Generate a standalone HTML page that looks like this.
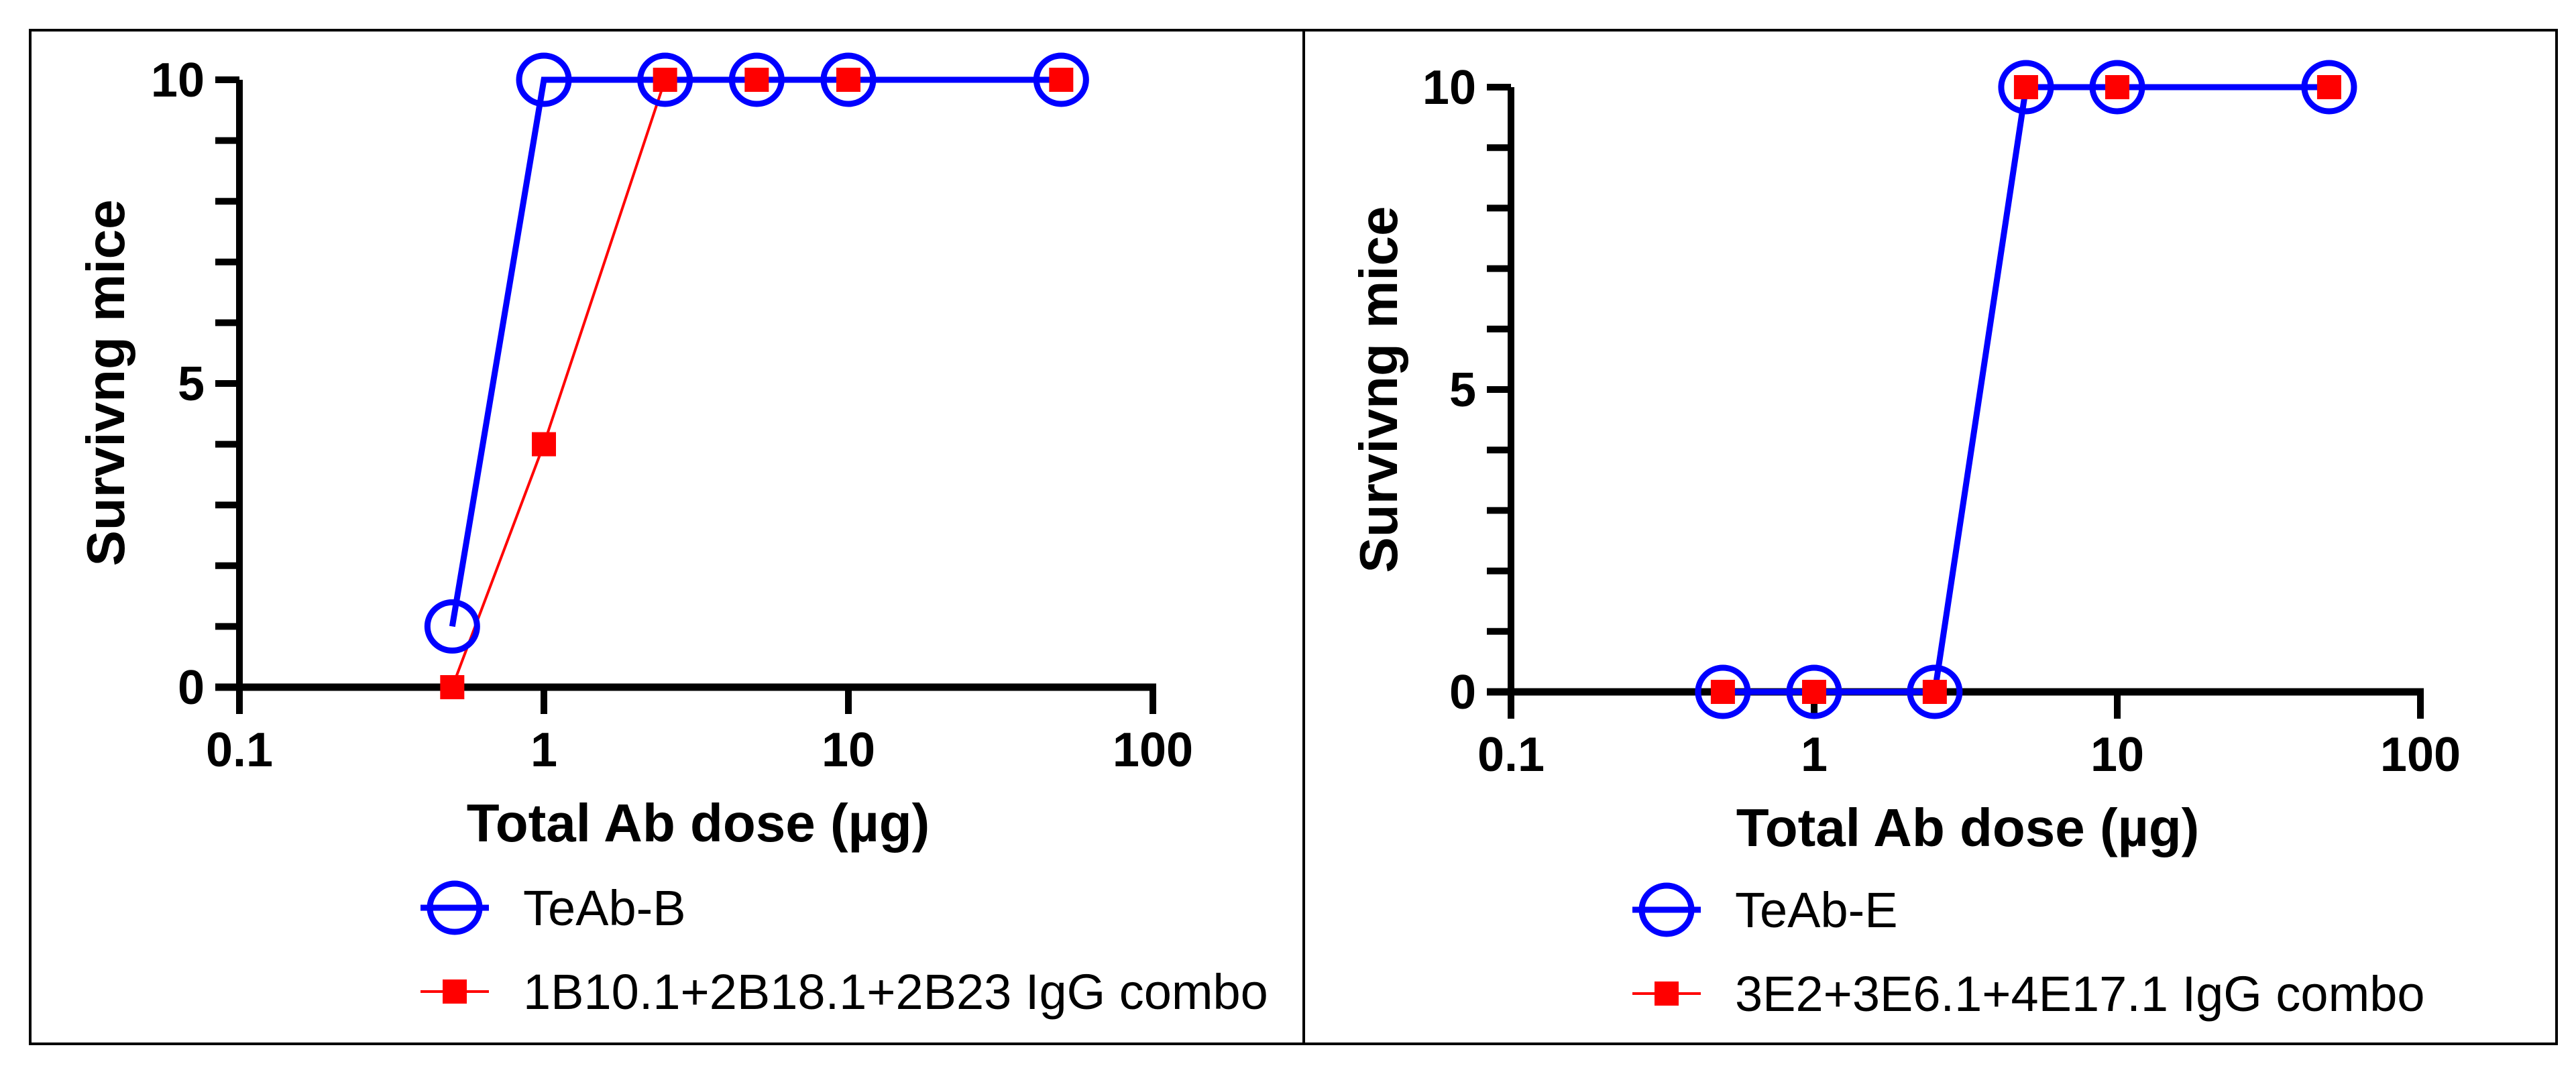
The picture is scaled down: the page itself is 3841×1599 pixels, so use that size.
<!DOCTYPE html>
<html><head><meta charset="utf-8"><style>
html,body{margin:0;padding:0;background:#fff;}
svg{display:block;}
text{font-family:"Liberation Sans Narrow","Liberation Sans",sans-serif;}
</style></head><body>
<svg id="fig" width="3841" height="1599" viewBox="0 0 3841 1599" xmlns="http://www.w3.org/2000/svg">
<rect x="45" y="45" width="3767" height="1512" fill="none" stroke="#000" stroke-width="4"/>
<line x1="1944" y1="45" x2="1944" y2="1557" stroke="#000" stroke-width="4"/>
</svg>
<script>
const doses = [0.5, 1, 2.5, 5, 10, 50];
const leftBlue = [1, 10, 10, 10, 10, 10];
const leftRed = [0, 4, 10, 10, 10, 10];
const rightBlue = [0, 0, 0, 10, 10, 10];
const rightRed = [0, 0, 0, 10, 10, 10];
const xTicks = [0.1, 1, 10, 100];
const xTickLabels = ["0.1", "1", "10", "100"];
const yTicks = [0, 5, 10];
const yMinor = [1, 2, 3, 4, 6, 7, 8, 9];
const leftLegend = ["TeAb-B", "1B10.1+2B18.1+2B23 IgG combo"];
const rightLegend = ["TeAb-E", "3E2+3E6.1+4E17.1 IgG combo"];

const NS = "http://www.w3.org/2000/svg";
const svg = document.getElementById("fig");
function mk(tag, attrs, parent) {
  const e = document.createElementNS(NS, tag);
  for (const k in attrs) e.setAttribute(k, attrs[k]);
  (parent || svg).appendChild(e);
  return e;
}

function panel(p, id) {
  const g = mk("g", {});
  
  
  const X = v => p.x0 + (Math.log10(v) - Math.log10(0.1)) / 3 * (p.x1 - p.x0);
  const Y = v => p.y0 - v / 10 * (p.y0 - p.y1);
  // axes
  const ya = mk("line", {x1: p.x0, y1: Y(10), x2: p.x0, y2: p.y0 + 5, stroke: "#000", "stroke-width": 10}, g);
  
  
  const xa = mk("line", {x1: p.x0 - 36, y1: p.y0, x2: p.x1 + 5, y2: p.y0, stroke: "#000", "stroke-width": 11}, g);
  
  
  yTicks.concat(yMinor).forEach(v => {
    const t = mk("line", {x1: p.x0 - 36, y1: Y(v), x2: p.x0, y2: Y(v), stroke: "#000", "stroke-width": 10}, g);
    
    
  });
  yTicks.forEach(v => {
    const t = mk("text", {x: p.x0 - 52, y: Y(v) + 25, "text-anchor": "end", "font-size": 72, "font-weight": "bold"}, g);
    t.textContent = String(v);
    
    
  });
  xTicks.forEach((v, i) => {
    const t = mk("line", {x1: X(v), y1: p.y0, x2: X(v), y2: p.y0 + 40, stroke: "#000", "stroke-width": 10}, g);
    
    
    const l = mk("text", {x: X(v), y: p.y0 + 118, "text-anchor": "middle", "font-size": 72, "font-weight": "bold"}, g);
    l.textContent = xTickLabels[i];
    
    
  });
  const xt = mk("text", {x: p.xtx, y: p.xty, "text-anchor": "middle", "font-size": 80, "font-weight": "bold"}, g);
  xt.textContent = "Total Ab dose (\u00b5g)";
  
  
  const yt = mk("text", {x: 0, y: 0, "text-anchor": "middle", "font-size": 80, "font-weight": "bold", transform: `translate(${p.ytx},${p.yty}) rotate(-90)`}, g);
  yt.textContent = "Survivng mice";
  
  

  // red series
  const rpts = doses.map((d, i) => X(d) + "," + Y(p.red[i])).join(" ");
  const rl = mk("polyline", {points: rpts, fill: "none", stroke: "#ff0000", "stroke-width": 4}, g);
  
  
  // blue series line
  const bpts = doses.map((d, i) => X(d) + "," + Y(p.blue[i])).join(" ");
  const bl = mk("polyline", {points: bpts, fill: "none", stroke: "#0000ff", "stroke-width": 9}, g);
  
  
  doses.forEach((d, i) => {
    const s = mk("rect", {x: X(d) - 18, y: Y(p.red[i]) - 18, width: 36, height: 36, fill: "#ff0000"}, g);
    
    
  });
  doses.forEach((d, i) => {
    const c = mk("ellipse", {cx: X(d), cy: Y(p.blue[i]), rx: 37, ry: 36, fill: "none", stroke: "#0000ff", "stroke-width": 9}, g);
    
    
  });
  // legend
  const lx0 = p.lx, lx1 = p.lx + 102, lc = (lx0 + lx1) / 2;
  const l1 = mk("line", {x1: lx0, y1: p.ly1, x2: lx1, y2: p.ly1, stroke: "#0000ff", "stroke-width": 9}, g);
  
  
  const lc1 = mk("ellipse", {cx: lc, cy: p.ly1, rx: 37, ry: 36, fill: "none", stroke: "#0000ff", "stroke-width": 9}, g);
  
  
  const t1 = mk("text", {x: p.ltx, y: p.ly1 + 26, "font-size": 74}, g);
  t1.textContent = p.legend[0];
  
  
  const l2 = mk("line", {x1: lx0, y1: p.ly2, x2: lx1, y2: p.ly2, stroke: "#ff0000", "stroke-width": 4}, g);
  
  
  const ls2 = mk("rect", {x: lc - 18, y: p.ly2 - 18, width: 36, height: 36, fill: "#ff0000"}, g);
  
  
  const t2 = mk("text", {x: p.ltx, y: p.ly2 + 26, "font-size": 74}, g);
  t2.textContent = p.legend[1];
  
  
}

panel({x0: 357, x1: 1719, y0: 1025, y1: 119, blue: leftBlue, red: leftRed,
  xtx: 1041, xty: 1255, ytx: 185, yty: 571, lx: 627, ltx: 780, ly1: 1354, ly2: 1479, legend: leftLegend}, "left");
panel({x0: 2253, x1: 3609, y0: 1032, y1: 130, blue: rightBlue, red: rightRed,
  xtx: 2934, xty: 1262, ytx: 2083, yty: 581, lx: 2434, ltx: 2587, ly1: 1357, ly2: 1482, legend: rightLegend}, "right");
</script>
</body></html>
